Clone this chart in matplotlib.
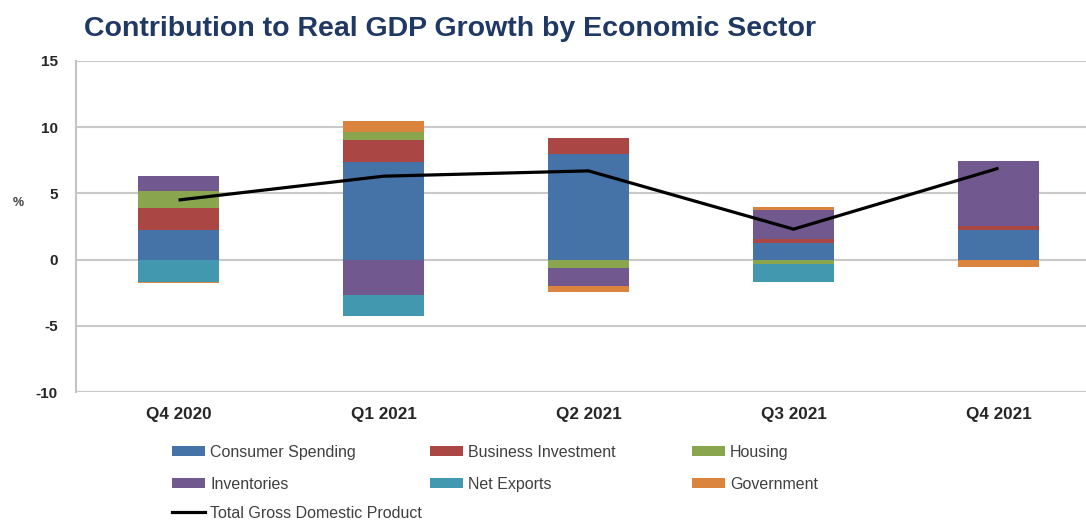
#!/usr/bin/env python3
"""Contribution to real GDP growth by sector, stacked bars + total line."""
import matplotlib
matplotlib.use("Agg")
import matplotlib.pyplot as plt
from matplotlib.patches import Rectangle
from matplotlib.lines import Line2D
import numpy as np

quarters = ["Q4 2020", "Q1 2021", "Q2 2021", "Q3 2021", "Q4 2021"]

consumer = [2.24, 7.40, 7.95, 1.28, 2.24]
business = [1.63, 1.63, 1.21, 0.28, 0.30]
housing = [1.33, 0.63, -0.60, -0.37, 0.0]
inventories = [1.10, -2.67, -1.37, 2.19, 4.91]
net_exports = [-1.67, -1.56, 0.0, -1.30, -0.02]
government = [-0.12, 0.81, -0.45, 0.25, -0.53]
total_gdp = [4.5, 6.3, 6.7, 2.3, 6.9]

series_names = ["Consumer Spending", "Business Investment", "Housing",
                "Inventories", "Net Exports", "Government"]
series_values = [consumer, business, housing, inventories, net_exports, government]
series_colors = ["#4572A7", "#AA4643", "#89A54E", "#71588F", "#4198AF", "#DB843D"]
line_name = "Total Gross Domestic Product"

plt.rcParams["font.family"] = ["Liberation Sans", "DejaVu Sans"]
plt.rcParams["axes.unicode_minus"] = False

W, H = 1086, 521
fig = plt.figure(figsize=(W / 100, H / 100), dpi=100)
fig.patch.set_facecolor("white")

# plot area: left edge 76px, top 61px, bottom 392px, runs past the right edge
ax = fig.add_axes([76 / W, 1 - 392 / H, (1101 - 76) / W, (392 - 61) / H])

x = np.arange(len(quarters))
pos_base = np.zeros(len(quarters))
neg_base = np.zeros(len(quarters))
for name, vals, col in zip(series_names, series_values, series_colors):
    v = np.asarray(vals, dtype=float)
    pos = np.clip(v, 0, None)
    neg = np.clip(v, None, 0)
    ax.bar(x, pos, 0.395, bottom=pos_base, color=col, linewidth=0, zorder=2)
    ax.bar(x, neg, 0.395, bottom=neg_base, color=col, linewidth=0, zorder=2)
    pos_base += pos
    neg_base += neg

ax.plot(x, total_gdp, color="black", lw=2.3, zorder=3, solid_capstyle="butt")

ax.set_xlim(-0.5, len(quarters) - 0.5)
ax.set_ylim(-10, 15)
ax.set_yticks(np.arange(-10, 16, 5))
ax.set_xticks(x)
ax.set_xticklabels(quarters)
ax.grid(axis="y", color="#c9c9c9", lw=1.5, zorder=0)
ax.set_axisbelow(True)
for s in ("top", "right", "bottom"):
    ax.spines[s].set_visible(False)
ax.spines["left"].set_color("#c4c4c4")
ax.spines["left"].set_linewidth(1.5)
ax.tick_params(axis="both", length=0, colors="#262626")
ax.tick_params(axis="y", pad=13, labelsize=11)
ax.tick_params(axis="x", pad=11, labelsize=12.3)
for lab in ax.get_xticklabels() + ax.get_yticklabels():
    lab.set_fontweight("bold")

fig.text(18 / W, 1 - 203 / H, "%", fontsize=9, fontweight="bold",
         color="#404040", ha="center", va="center")

fig.text(84 / W, 1 - 29 / H, "Contribution to Real GDP Growth by Economic Sector",
         fontsize=20.5, fontweight="bold", color="#1f3864", ha="left", va="center")

# legend laid out like the Excel one: three columns, rows filled left to right
col_x = [172, 430, 692]
row_y = [451, 483, 512]
for i, (name, col) in enumerate(zip(series_names, series_colors)):
    r, c = divmod(i, 3)
    fig.add_artist(Rectangle((col_x[c] / W, 1 - (row_y[r] + 5) / H), 33 / W, 10 / H,
                             transform=fig.transFigure, color=col, lw=0))
    fig.text((col_x[c] + 38) / W, 1 - row_y[r] / H, name, fontsize=11.5,
             color="#404040", ha="left", va="center_baseline")
fig.add_artist(Line2D([col_x[0] / W, (col_x[0] + 33) / W], [1 - row_y[2] / H] * 2,
                      transform=fig.transFigure, color="black", lw=2.3))
fig.text((col_x[0] + 38) / W, 1 - row_y[2] / H, line_name, fontsize=11.5,
         color="#404040", ha="left", va="center_baseline")

fig.savefig("out.png", dpi=100)
